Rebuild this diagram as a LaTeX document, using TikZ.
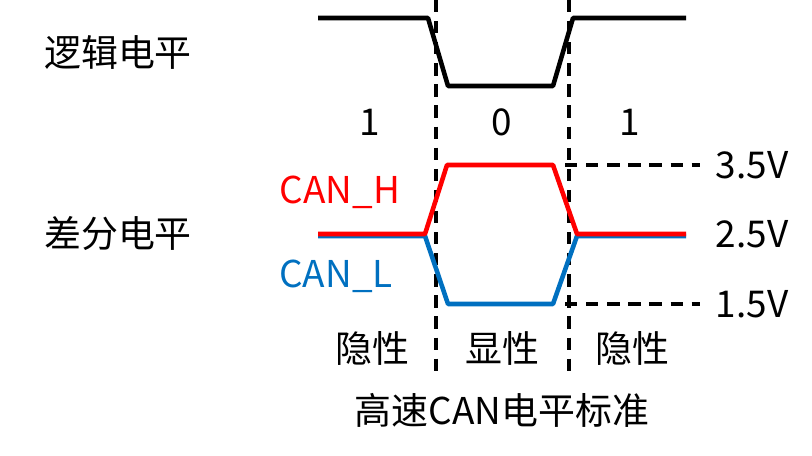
\documentclass[tikz,border=0pt]{standalone}
\usepackage{fontspec}
\setmainfont{Noto Sans CJK SC}
\usetikzlibrary{positioning}
\tikzset{
  lbl/.style={font=\fontsize{10.5}{12}\selectfont, inner sep=0pt},
  sig/.style={line width=1.3pt, line join=round},
  grid/.style={line width=1pt, dash pattern=on 3.5pt off 2.5pt}
}
\begin{document}
\begin{tikzpicture}[x=0.01cm,y=-0.01cm]
  \useasboundingbox (0,0) rectangle (812,456);
  % 分隔虚线
  \draw[grid] (436,0) -- (436,372);
  \draw[grid] (569,0) -- (569,372);
  \draw[grid] (565,165) -- (700,165);
  \draw[grid] (565,304) -- (700,304);
  % 逻辑电平
  \draw[sig] (318,18) -- (428,18) -- (448,86) -- (553,86) -- (573,18) -- (686,18);
  % 差分电平
  \draw[sig, color={rgb,255:red,0;green,112;blue,192}] (318,236) -- (425,236) -- (448,304) -- (553,304) -- (577,236) -- (686,236);
  \draw[sig, red] (318,234) -- (425,234) -- (447,165) -- (553,165) -- (577,234) -- (686,234);
  % 文字
  \node[lbl] (logic) at (118,52) {逻辑电平};
  \node[lbl] (diff) at (118,234) {差分电平};
  \node[lbl] (one1) at (370,122) {1};
  \node[lbl] (zero) at (502,122) {0};
  \node[lbl] (one2) at (630,122) {1};
  \node[lbl, red] (canh) at (340,192) {CAN\_H};
  \node[lbl, color={rgb,255:red,0;green,112;blue,192}] (canl) at (336,276) {CAN\_L};
  \node[lbl] (v35) at (752,165) {3.5V};
  \node[lbl] (v25) at (752,234) {2.5V};
  \node[lbl] (v15) at (752,304) {1.5V};
  \node[lbl] (rec1) at (372,348) {隐性};
  \node[lbl] (dom) at (502,348) {显性};
  \node[lbl] (rec2) at (632,348) {隐性};
  \node[lbl] (title) at (502,410) {高速CAN电平标准};
\end{tikzpicture}
\end{document}
